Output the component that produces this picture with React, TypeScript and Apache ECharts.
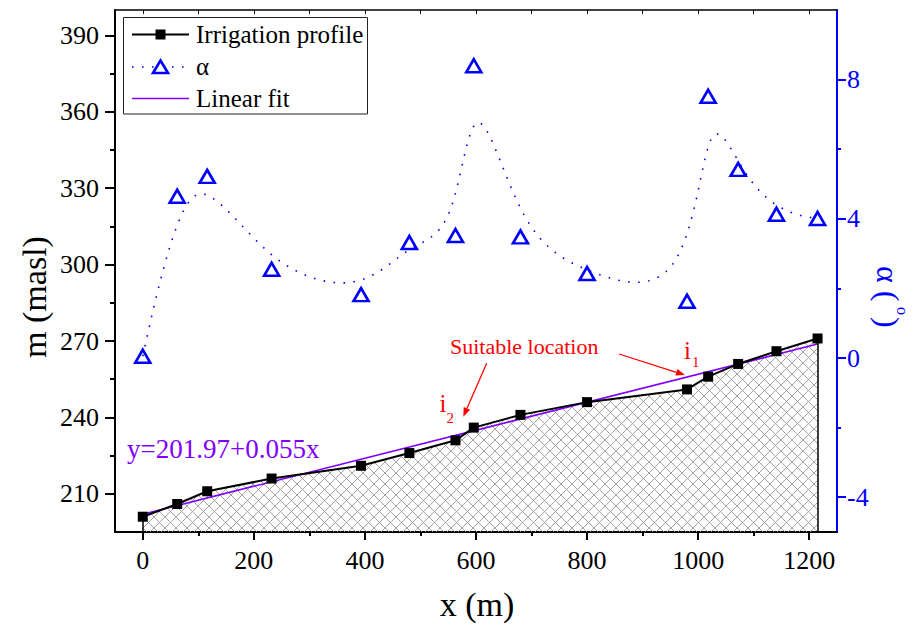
import React, { useEffect, useRef } from "react";
import * as echarts from "echarts";

// ---------- data ----------
const profileX = [0, 62, 116, 232, 393, 480, 563, 596, 680, 800, 980, 1018, 1072, 1141, 1215];
const profileY = [201, 206, 211, 216, 221, 226, 231, 236, 241, 246, 251, 256, 261, 266, 271];
const alphaX = [0, 62, 116, 232, 393, 480, 563, 596, 680, 800, 980, 1018, 1072, 1141, 1215];
const alphaValues = [0.05, 4.65, 5.22, 2.55, 1.82, 3.32, 3.52, 8.4, 3.48, 2.43, 1.63, 7.52, 5.42, 4.13, 4.01];
const fitX = [0, 1215];
const fitY = [201.97, 268.8];

const xRange = [-50, 1250];
const yLeftRange = [195, 400];
const yRightRange = [-5, 10];
const xTicks = [0, 200, 400, 600, 800, 1000, 1200];
const xMinorTicks = [100, 300, 500, 700, 900, 1100];
const xTopTicks = [0, 100, 200, 300, 400, 500, 600, 700, 800, 900, 1000, 1100, 1200];
const yLeftTicks = [210, 240, 270, 300, 330, 360, 390];
const yLeftMinorTicks = [225, 255, 285, 315, 345, 375];
const yRightTicks = [-4, 0, 4, 8];
const yRightMinorTicks = [-2, 2, 6];

const FONT = "Liberation Serif";
const BLUE = "#0000ff";
const PURPLE = "#8000ff";
const RED = "#ff0000";

function bspline(ctrl: number[][], p: number, samples: number): number[][] {
  const n = ctrl.length - 1;
  const knots: number[] = [];
  for (let i = 0; i <= p; i++) knots.push(0);
  for (let i = 1; i <= n - p; i++) knots.push(i);
  for (let i = 0; i <= p; i++) knots.push(n - p + 1);
  const uMax = n - p + 1;
  const out: number[][] = [];
  for (let s = 0; s <= samples; s++) {
    const u = (uMax * s) / samples;
    let k = p;
    while (k < n && u >= knots[k + 1]) k++;
    const d: number[][] = [];
    for (let j = 0; j <= p; j++) d.push([ctrl[j + k - p][0], ctrl[j + k - p][1]]);
    for (let r = 1; r <= p; r++) {
      for (let j = p; j >= r; j--) {
        const den = knots[j + 1 + k - r] - knots[j + k - p];
        const a = den === 0 ? 0 : (u - knots[j + k - p]) / den;
        d[j] = [(1 - a) * d[j - 1][0] + a * d[j][0], (1 - a) * d[j - 1][1] + a * d[j][1]];
      }
    }
    out.push(d[p]);
  }
  return out;
}

function makeHatch(): HTMLCanvasElement {
  const s = 11;
  const c = document.createElement("canvas");
  c.width = s;
  c.height = s;
  const ctx = c.getContext("2d")!;
  ctx.strokeStyle = "#999999";
  ctx.lineWidth = 0.9;
  ctx.beginPath();
  ctx.moveTo(0, 0);
  ctx.lineTo(s, s);
  ctx.moveTo(s, 0);
  ctx.lineTo(0, s);
  ctx.stroke();
  return c;
}

function arrow(x1: number, y1: number, x2: number, y2: number, color: string) {
  const ang = Math.atan2(y2 - y1, x2 - x1);
  const L = 9, W = 3.5;
  const bx = x2 - L * Math.cos(ang), by = y2 - L * Math.sin(ang);
  const px = -Math.sin(ang) * W, py = Math.cos(ang) * W;
  return [
    { type: "line", shape: { x1, y1, x2: bx, y2: by }, style: { stroke: color, lineWidth: 1.3 }, z: 100 },
    { type: "polygon", shape: { points: [[x2, y2], [bx + px, by + py], [bx - px, by - py]] }, style: { fill: color }, z: 100 },
  ];
}

export default function App() {
  const ref = useRef<HTMLDivElement>(null);
  useEffect(() => {
    if (!ref.current) return;
    const chart = echarts.init(ref.current, null, { renderer: "svg" });
    const hatch = makeHatch();
    const profileData = profileX.map((x, i) => [x, profileY[i]]);
    const fitData = fitX.map((x, i) => [x, fitY[i]]);
    const alphaData = alphaX.map((x, i) => [x, alphaValues[i]]);
    const last = profileX.length - 1;

    const baseX = { type: "value", min: xRange[0], max: xRange[1], splitLine: { show: false } };
    const baseYL = { type: "value", min: yLeftRange[0], max: yLeftRange[1], splitLine: { show: false } };
    const baseYR = { type: "value", min: yRightRange[0], max: yRightRange[1], splitLine: { show: false } };
    const label = (color: string, margin: number, values: number[]) => ({
      show: true, color, fontSize: 26, fontFamily: FONT, margin, customValues: values,
      formatter: (v: number) => String(v),
    });
    const rot = -Math.PI / 2;

    const option: any = {
      animation: false,
      backgroundColor: "#ffffff",
      textStyle: { fontFamily: FONT },
      grid: { left: 115, top: 10, width: 722, height: 522, containLabel: false },
      xAxis: [
        {
          ...baseX, position: "bottom",
          axisLine: { show: true, onZero: false, lineStyle: { color: "#000", width: 2 } },
          axisTick: { show: true, length: 8, lineStyle: { color: "#000", width: 2 }, customValues: xTicks },
          axisLabel: label("#000", 15, xTicks),
        },
        {
          ...baseX, position: "bottom",
          axisLine: { show: false, onZero: false },
          axisTick: { show: true, length: 4, lineStyle: { color: "#000", width: 2 }, customValues: xMinorTicks },
          axisLabel: { show: false },
        },
        {
          ...baseX, position: "top",
          axisLine: { show: true, onZero: false, lineStyle: { color: "#000", width: 1.5 } },
          axisTick: { show: true, inside: true, length: 4, lineStyle: { color: "#000", width: 1 }, customValues: xTopTicks },
          axisLabel: { show: false },
        },
      ],
      yAxis: [
        {
          ...baseYL, position: "left",
          axisLine: { show: true, onZero: false, lineStyle: { color: "#000", width: 2 } },
          axisTick: { show: true, length: 10, lineStyle: { color: "#000", width: 2 }, customValues: yLeftTicks },
          axisLabel: label("#000", 16, yLeftTicks),
        },
        {
          ...baseYR, position: "right",
          axisLine: { show: true, onZero: false, lineStyle: { color: BLUE, width: 2 } },
          axisTick: { show: true, length: 9, lineStyle: { color: BLUE, width: 2 }, customValues: yRightTicks },
          axisLabel: label(BLUE, 10, yRightTicks),
        },
        {
          ...baseYL, position: "left",
          axisLine: { show: false, onZero: false },
          axisTick: { show: true, length: 5, lineStyle: { color: "#000", width: 2 }, customValues: yLeftMinorTicks },
          axisLabel: { show: false },
        },
        {
          ...baseYR, position: "right",
          axisLine: { show: false, onZero: false },
          axisTick: { show: true, length: 4, lineStyle: { color: BLUE, width: 2 }, customValues: yRightMinorTicks },
          axisLabel: { show: false },
        },
      ],
      series: [
        {
          name: "area", type: "line", xAxisIndex: 0, yAxisIndex: 0, data: profileData,
          symbol: "none", lineStyle: { width: 0, opacity: 0 }, silent: true, z: 1,
          areaStyle: {
            origin: "start", opacity: 1,
            color: { image: hatch, repeat: "repeat", imageWidth: 11, imageHeight: 11 },
          },
        },
        {
          name: "Linear fit", type: "line", xAxisIndex: 0, yAxisIndex: 0, data: fitData,
          symbol: "none", lineStyle: { color: PURPLE, width: 1.6 }, z: 2, silent: true,
        },
        {
          name: "Irrigation profile", type: "line", xAxisIndex: 0, yAxisIndex: 0, data: profileData,
          symbol: "rect", symbolSize: 10, itemStyle: { color: "#000" },
          lineStyle: { color: "#000", width: 2 }, z: 3, silent: true,
          markLine: {
            silent: true, symbol: ["none", "none"], animation: false, label: { show: false },
            lineStyle: { color: "#000", width: 1.5, type: "solid" },
            data: [
              [{ coord: [profileX[0], profileY[0]] }, { coord: [profileX[0], yLeftRange[0]] }],
              [{ coord: [profileX[last], profileY[last]] }, { coord: [profileX[last], yLeftRange[0]] }],
            ],
          },
        },
        {
          name: "α spline", type: "custom", coordinateSystem: "cartesian2d", xAxisIndex: 0, yAxisIndex: 1,
          data: alphaData, encode: { x: 0, y: 1 }, z: 2, silent: true,
          renderItem: (params: any, api: any) => {
            if (params.dataIndex !== 0) return { type: "group", children: [] };
            const ctrl = alphaX.map((x, i) => api.coord([x, alphaValues[i]]));
            const pts = bspline(ctrl, 3, 800);
            return {
              type: "polyline",
              shape: { points: pts },
              style: { stroke: BLUE, lineWidth: 1.6, lineDash: [1.6, 8.4], fill: null },
            };
          },
        },
        {
          name: "α", type: "scatter", xAxisIndex: 0, yAxisIndex: 1, data: alphaData,
          symbol: "triangle", symbolSize: [15, 13], z: 4, silent: true,
          itemStyle: { color: "rgba(255,255,255,0)", borderColor: BLUE, borderWidth: 2.6, opacity: 1 },
        },
      ],
      graphic: [
        // legend
        { type: "rect", shape: { x: 123.5, y: 17.5, width: 244, height: 96.5 }, style: { fill: "#fff", stroke: "#222", lineWidth: 1 }, z: 90 },
        { type: "line", shape: { x1: 132, y1: 34.5, x2: 189, y2: 34.5 }, style: { stroke: "#000", lineWidth: 2 }, z: 91 },
        { type: "rect", shape: { x: 155.5, y: 29.5, width: 10, height: 10 }, style: { fill: "#000" }, z: 92 },
        { type: "text", x: 196, y: 34.5, style: { text: "Irrigation profile", fill: "#000", font: `25px ${FONT}`, textVerticalAlign: "middle" }, z: 92 },
        { type: "line", shape: { x1: 132, y1: 67, x2: 189, y2: 67 }, style: { stroke: BLUE, lineWidth: 1.6, lineDash: [1.6, 8.4] }, z: 91 },
        { type: "polygon", shape: { points: [[160.5, 60.5], [168, 73], [153, 73]] }, style: { fill: "#fff", stroke: BLUE, lineWidth: 2.6 }, z: 92 },
        { type: "text", x: 196, y: 66, style: { text: "α", fill: "#000", font: `25px ${FONT}`, textVerticalAlign: "middle" }, z: 92 },
        { type: "line", shape: { x1: 132, y1: 98.5, x2: 189, y2: 98.5 }, style: { stroke: PURPLE, lineWidth: 1.6 }, z: 91 },
        { type: "text", x: 196, y: 98, style: { text: "Linear fit", fill: "#000", font: `25px ${FONT}`, textVerticalAlign: "middle" }, z: 92 },
        // annotations
        { type: "text", x: 450, y: 346.5, style: { text: "Suitable location", fill: RED, font: `22px ${FONT}`, textVerticalAlign: "middle" }, z: 100 },
        ...arrow(486.7, 363.3, 463.3, 416.7, RED),
        ...arrow(619, 354, 685, 375, RED),
        { type: "text", x: 684, y: 350, style: { text: "i", fill: RED, font: `25px ${FONT}`, textVerticalAlign: "middle" }, z: 100 },
        { type: "text", x: 692, y: 362, style: { text: "1", fill: RED, font: `15px ${FONT}`, textVerticalAlign: "middle" }, z: 100 },
        { type: "text", x: 439.5, y: 403.5, style: { text: "i", fill: RED, font: `25px ${FONT}`, textVerticalAlign: "middle" }, z: 100 },
        { type: "text", x: 446.5, y: 417.5, style: { text: "2", fill: RED, font: `15px ${FONT}`, textVerticalAlign: "middle" }, z: 100 },
        { type: "text", x: 127, y: 449, style: { text: "y=201.97+0.055x", fill: PURPLE, font: `27px ${FONT}`, textVerticalAlign: "middle" }, z: 100 },
        // axis titles
        { type: "text", x: 34, y: 297, rotation: Math.PI / 2, style: { text: "m (masl)", fill: "#000", font: `34px ${FONT}`, textAlign: "center", textVerticalAlign: "middle" }, z: 100 },
        { type: "text", x: 477, y: 604, style: { text: "x (m)", fill: "#000", font: `34px ${FONT}`, textAlign: "center", textVerticalAlign: "middle" }, z: 100 },
        { type: "text", x: 888, y: 266, rotation: rot, style: { text: "α (", fill: BLUE, font: `32px ${FONT}`, textAlign: "left", textVerticalAlign: "middle" }, z: 100 },
        { type: "text", x: 902, y: 307, rotation: rot, style: { text: "o", fill: BLUE, font: `16px ${FONT}`, textAlign: "left", textVerticalAlign: "middle" }, z: 100 },
        { type: "text", x: 888, y: 317, rotation: rot, style: { text: ")", fill: BLUE, font: `32px ${FONT}`, textAlign: "left", textVerticalAlign: "middle" }, z: 100 },
      ],
    };
    chart.setOption(option);
    return () => chart.dispose();
  }, []);
  return (
    <div
      ref={ref}
      style={{ position: "absolute", left: 0, top: 0, width: 917, height: 628, background: "#fff" }}
    />
  );
}
